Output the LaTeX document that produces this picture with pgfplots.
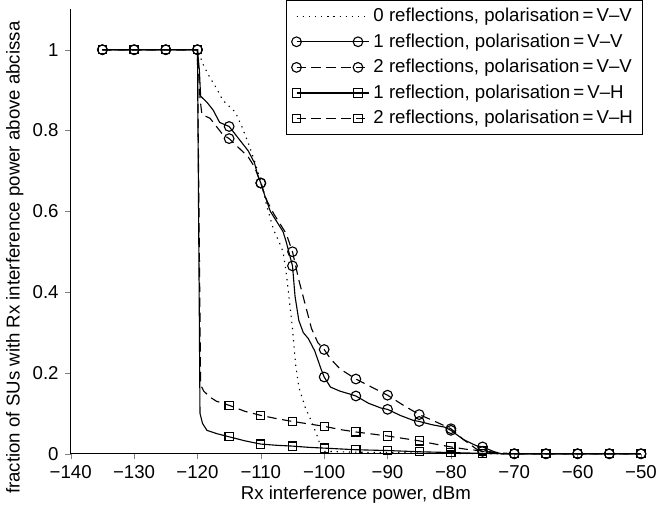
\documentclass[border=0pt]{standalone}
\usepackage{fontspec}
\setmainfont{Liberation Sans}
\usepackage{pgfplots}
\pgfplotsset{compat=1.18}

% legend sample: line with a marker at each end
\pgfplotsset{
  leg/.style 2 args={legend image code/.code={
    \draw[##1] (0pt,0pt) -- (33pt,0pt);
    \draw[##1, solid] plot[only marks, mark=#1, mark size=#2] coordinates {(0pt,0pt) (33pt,0pt)};
    \path (0pt,0pt) -- (39pt,0pt);
  }},
  legline/.style={legend image code/.code={\draw[##1] (0pt,0pt) -- (33pt,0pt); \path (0pt,0pt) -- (39pt,0pt);}},
  dotted0/.style={dash pattern=on 0.7pt off 2.6pt},
  dashed0/.style={dash pattern=on 5pt off 3pt},
}

\begin{document}
\begin{tikzpicture}
\begin{axis}[
    scale only axis,
    width=306pt, height=238.5pt,
    xmin=-140, xmax=-50, ymin=0, ymax=1.10,
    axis lines*=left,
    tick align=outside,
    major tick length=3pt,
    xtick={-140,-130,-120,-110,-100,-90,-80,-70,-60,-50},
    xticklabels={−140,−130,−120,−110,−100,−90,−80,−70,−60,−50},
    ytick={0,0.2,0.4,0.6,0.8,1},
    yticklabels={0,0.2,0.4,0.6,0.8,1},
    xlabel={Rx interference power, dBm},
    ylabel={fraction of SUs with Rx interference power above abcissa},
    xlabel style={yshift=3pt},
    ylabel style={yshift=-2pt, xshift=-14pt},
    legend style={at={(1,1)}, anchor=north east, yshift=5pt, xshift=1pt,
        draw=black, line width=0.6pt, cells={anchor=west}, row sep=1pt},
    every axis plot/.append style={line width=0.6pt, black},
    clip=false,
]
% 0 reflections, V-V
\addplot[dotted0, legline] coordinates {
    (-135,1) (-120,1) (-119,0.96) (-118,0.93) (-117,0.905) (-116,0.875) (-115,0.86)
    (-114,0.845) (-113,0.81) (-112,0.77) (-111,0.725) (-110,0.675) (-109,0.61)
    (-108,0.555) (-107,0.52) (-106.5,0.50) (-106,0.45) (-105.5,0.38) (-105,0.31)
    (-104.5,0.22) (-104,0.165) (-103,0.115) (-102,0.08) (-101,0.04) (-100.5,0.015)
    (-100,0.006) (-95,0.004) (-90,0.003) (-85,0.002) (-80,0.001) (-75,0) (-50,0)};
% 1 reflection, V-V
\addplot[solid, leg={o}{2.6pt}] coordinates {
    (-135,1) (-120,1) (-119.7,0.95) (-119.5,0.885) (-118.5,0.87) (-117.5,0.85)
    (-116.5,0.82) (-115,0.81) (-114,0.79) (-113,0.77) (-112,0.75) (-111,0.72)
    (-110.5,0.69) (-110,0.67) (-109.5,0.645) (-108.5,0.60) (-107.5,0.575)
    (-106.5,0.55) (-106,0.525) (-105,0.465) (-104.6,0.39) (-104,0.33) (-103.3,0.30)
    (-102.5,0.285) (-101.5,0.255) (-100.5,0.21) (-100,0.19) (-99,0.165) (-97.5,0.155)
    (-96,0.148) (-95,0.143) (-93,0.125) (-91,0.113) (-90,0.11) (-88,0.095)
    (-86,0.083) (-85,0.08) (-83,0.072) (-81,0.066) (-80,0.058) (-78,0.035)
    (-76,0.02) (-75,0.017) (-73,0.004) (-72,0) (-50,0)};
% 2 reflections, V-V
\addplot[dashed0, leg={o}{2.6pt}] coordinates {
    (-135,1) (-120,1) (-119.6,0.88) (-119.3,0.84) (-118,0.83) (-117,0.81) (-116,0.79)
    (-115,0.78) (-114,0.765) (-113,0.75) (-112,0.735) (-111,0.71) (-110,0.67)
    (-109,0.625) (-108,0.595) (-107,0.57) (-106,0.545) (-105,0.50) (-104,0.43)
    (-103,0.37) (-102,0.31) (-101,0.275) (-100,0.258) (-99,0.235) (-97.5,0.21)
    (-96,0.195) (-95,0.185) (-92.5,0.165) (-90,0.145) (-87.5,0.12) (-85,0.097)
    (-82.5,0.08) (-80,0.062) (-78,0.035) (-76,0.012) (-75,0.006) (-73,0.002)
    (-72,0) (-50,0)};
% 1 reflection, V-H
\addplot[solid, leg={square}{2.2pt}] coordinates {
    (-135,1) (-120,1) (-119.6,0.10) (-119.2,0.075) (-118.5,0.058) (-117,0.05)
    (-115,0.042) (-112.5,0.032) (-110,0.024) (-107.5,0.021) (-105,0.019)
    (-102.5,0.016) (-100,0.014) (-95,0.01) (-90,0.008) (-85,0.005) (-80,0.003)
    (-75,0.001) (-70,0) (-50,0)};
% 2 reflections, V-H
\addplot[dashed0, leg={square}{2.2pt}] coordinates {
    (-135,1) (-120,1) (-119.5,0.17) (-119,0.155) (-118,0.14) (-117,0.13) (-115,0.12)
    (-112.5,0.105) (-110,0.095) (-107.5,0.087) (-105,0.08) (-102.5,0.074)
    (-100,0.068) (-97.5,0.06) (-95,0.054) (-92.5,0.049) (-90,0.044) (-87.5,0.038)
    (-85,0.032) (-82.5,0.024) (-80,0.017) (-77.5,0.011) (-75,0.007) (-72,0.002)
    (-70,0) (-50,0)};

% markers every 5 dBm
\addplot[only marks, mark=o, mark size=2.6pt, forget plot] coordinates {
    (-135,1) (-130,1) (-125,1) (-120,1) (-115,0.81) (-110,0.67) (-105,0.465)
    (-100,0.19) (-95,0.143) (-90,0.11) (-85,0.08) (-80,0.058) (-75,0.017)
    (-70,0) (-65,0) (-60,0) (-55,0) (-50,0)};
\addplot[only marks, mark=o, mark size=2.6pt, forget plot] coordinates {
    (-135,1) (-130,1) (-125,1) (-120,1) (-115,0.78) (-110,0.67) (-105,0.50)
    (-100,0.258) (-95,0.185) (-90,0.145) (-85,0.097) (-80,0.062) (-75,0.006)
    (-70,0) (-65,0) (-60,0) (-55,0) (-50,0)};
\addplot[only marks, mark=square, mark size=2.2pt, forget plot] coordinates {
    (-135,1) (-130,1) (-125,1) (-120,1) (-115,0.042) (-110,0.024) (-105,0.019)
    (-100,0.014) (-95,0.01) (-90,0.008) (-85,0.005) (-80,0.003) (-75,0.001)
    (-70,0) (-65,0) (-60,0) (-55,0) (-50,0)};
\addplot[only marks, mark=square, mark size=2.2pt, forget plot] coordinates {
    (-135,1) (-130,1) (-125,1) (-120,1) (-115,0.12) (-110,0.095) (-105,0.08)
    (-100,0.068) (-95,0.054) (-90,0.044) (-85,0.032) (-80,0.017) (-75,0.007)
    (-70,0) (-65,0) (-60,0) (-55,0) (-50,0)};

\legend{{0 reflections, polarisation\,=\,V–V},
        {1 reflection, polarisation\,=\,V–V},
        {2 reflections, polarisation\,=\,V–V},
        {1 reflection, polarisation\,=\,V–H},
        {2 reflections, polarisation\,=\,V–H}}
\end{axis}
\end{tikzpicture}
\end{document}
